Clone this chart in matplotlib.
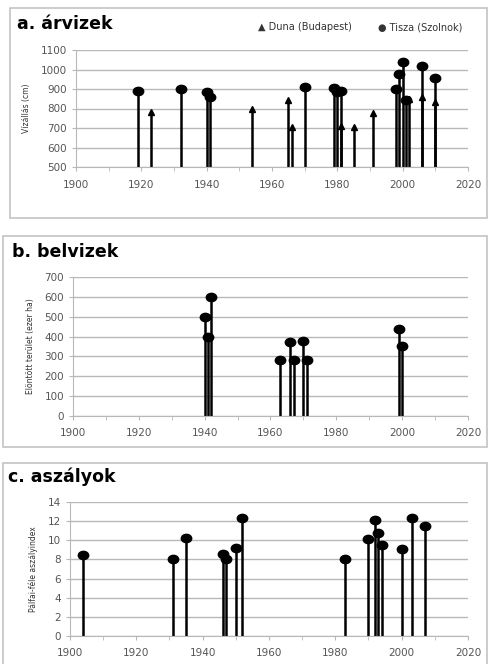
import matplotlib
matplotlib.use("Agg")
import matplotlib.pyplot as plt
from matplotlib.patches import Rectangle
from matplotlib.path import Path
from matplotlib.markers import MarkerStyle
from matplotlib.transforms import Affine2D

# a. arvizek (flood peaks, cm)
duna_years = [1923, 1954, 1965, 1966, 1981, 1985, 1991, 2002, 2006, 2010]
duna_levels = [780, 800, 845, 705, 712, 706, 778, 848, 860, 834]
tisza_years = [1919, 1932, 1940, 1941, 1970, 1979, 1980, 1981, 1998, 1999, 2000, 2001, 2006, 2010]
tisza_levels = [888, 900, 885, 861, 909, 904, 885, 888, 900, 977, 1041, 842, 1017, 958]

# b. belvizek (inundated area, thousand ha)
belviz_years = [1940, 1941, 1942, 1963, 1966, 1967, 1970, 1971, 1999, 2000]
belviz_area = [500, 400, 600, 283, 372, 283, 380, 283, 440, 352]

# c. aszalyok (Palfai drought index)
aszaly_years = [1904, 1931, 1935, 1946, 1947, 1950, 1952, 1983, 1990, 1992, 1993, 1994, 2000, 2003, 2007]
aszaly_index = [8.5, 8.0, 10.2, 8.6, 8.0, 9.2, 12.3, 8.0, 10.1, 12.1, 10.8, 9.5, 9.1, 12.3, 11.5]

W, H = 489, 664
fig = plt.figure(figsize=(W / 100, H / 100), dpi=100)

GRID = "#b8b8b8"
TXT = "#555555"

# slightly flattened circle, like the Excel markers in the original
oval = MarkerStyle(Path.unit_circle().transformed(Affine2D().scale(1.25, 1.0)))


def px(x0, y0, x1, y1):
    # pixel box (left, top, right, bottom) -> figure fraction rect
    return [x0 / W, 1 - y1 / H, (x1 - x0) / W, (y1 - y0) / H]


def frame(x0, y0, x1, y1):
    fig.patches.append(Rectangle((x0 / W, 1 - y1 / H), (x1 - x0) / W, (y1 - y0) / H,
                                 transform=fig.transFigure, fill=False,
                                 edgecolor="#c4c4c4", linewidth=1.2))


def style_axes(ax, ylo, yhi, ystep, ylabel):
    ax.set_xlim(1900, 2020)
    ax.set_ylim(ylo, yhi)
    ax.set_xticks(range(1900, 2021, 20))
    ax.set_xticks(range(1910, 2020, 20), minor=True)
    ax.set_yticks([v for v in range(int(ylo), int(yhi) + 1, ystep)])
    ax.grid(axis="y", color=GRID, linewidth=1)
    ax.set_axisbelow(True)
    for s in ["top", "right"]:
        ax.spines[s].set_visible(False)
    for s in ["left", "bottom"]:
        ax.spines[s].set_color(GRID)
    ax.tick_params(which="both", colors=GRID, labelcolor=TXT, labelsize=7.5, length=3)
    ax.tick_params(axis="x", pad=6)
    ax.set_ylabel(ylabel, fontsize=5.5, color="#333333", labelpad=7)


# ---- a. arvizek
frame(10, 8, 487, 218)
ax1 = fig.add_axes(px(76, 50, 468, 167))
ax1.vlines(tisza_years, 500, tisza_levels, color="black", linewidth=1.8)
ax1.vlines(duna_years, 500, duna_levels, color="black", linewidth=1.8)
ax1.plot(tisza_years, tisza_levels, linestyle="none", marker=oval, markersize=7.5, color="black")
ax1.plot(duna_years, duna_levels, linestyle="none", marker="^", markersize=5, color="black")
style_axes(ax1, 500, 1100, 100, "Vízállás (cm)")
fig.text(17 / W, 1 - 24 / H, "a. árvizek", fontsize=12.5, fontweight="bold", va="center")
fig.text(258 / W, 1 - 27 / H, "▲ Duna (Budapest)", fontsize=7, color="#333333", va="center")
fig.text(378 / W, 1 - 27 / H, "● Tisza (Szolnok)", fontsize=7, color="#333333", va="center")

# ---- b. belvizek
frame(3, 236, 487, 447)
ax2 = fig.add_axes(px(73, 277, 468, 416))
ax2.vlines(belviz_years, 0, belviz_area, color="black", linewidth=1.8)
ax2.plot(belviz_years, belviz_area, linestyle="none", marker=oval, markersize=7.5, color="black")
style_axes(ax2, 0, 700, 100, "Elöntött terület (ezer ha)")
fig.text(12 / W, 1 - 252 / H, "b. belvizek", fontsize=12.5, fontweight="bold", va="center")

# ---- c. aszalyok
frame(3, 463, 487, 670)
ax3 = fig.add_axes(px(70, 502, 468, 636))
ax3.vlines(aszaly_years, 0, aszaly_index, color="black", linewidth=1.8)
ax3.plot(aszaly_years, aszaly_index, linestyle="none", marker=oval, markersize=7.5, color="black")
style_axes(ax3, 0, 14, 2, "Pálfai-féle aszályindex")
fig.text(8 / W, 1 - 477 / H, "c. aszályok", fontsize=12.5, fontweight="bold", va="center")

fig.savefig("out.png", dpi=100)
